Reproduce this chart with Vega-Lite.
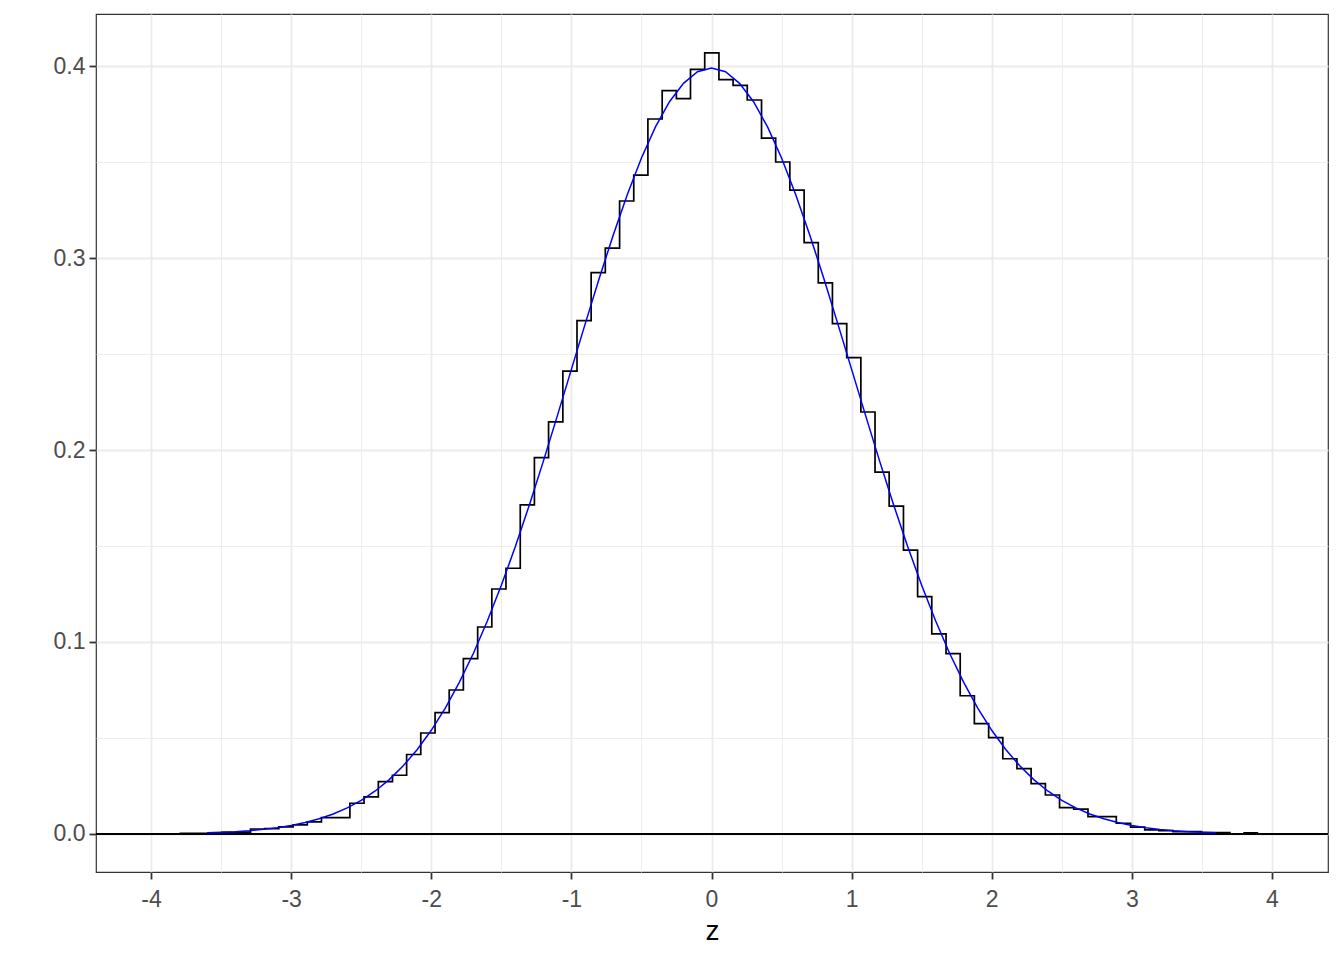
{
  "$schema": "https://vega.github.io/schema/vega-lite/v6.json",
  "width": 1232,
  "height": 858,
  "autosize": {"type": "none"},
  "padding": {"left": 96, "top": 14, "right": 16, "bottom": 88},
  "background": "white",
  "config": {
    "font": "Liberation Sans",
    "view": {"stroke": "#333333", "strokeWidth": 1.2}
  },
  "datasets": {
    "hist": [
      {"z": -3.797, "density": 0.0003}, {"z": -3.695, "density": 0.0003}, {"z": -3.594, "density": 0.0005},
      {"z": -3.493, "density": 0.0008}, {"z": -3.391, "density": 0.001}, {"z": -3.290, "density": 0.0026},
      {"z": -3.189, "density": 0.0028}, {"z": -3.088, "density": 0.0037}, {"z": -2.986, "density": 0.0047},
      {"z": -2.885, "density": 0.0063}, {"z": -2.784, "density": 0.0085}, {"z": -2.682, "density": 0.0085},
      {"z": -2.581, "density": 0.016}, {"z": -2.480, "density": 0.0193}, {"z": -2.378, "density": 0.0273},
      {"z": -2.277, "density": 0.0306}, {"z": -2.176, "density": 0.0414}, {"z": -2.075, "density": 0.0526},
      {"z": -1.973, "density": 0.0632}, {"z": -1.872, "density": 0.075}, {"z": -1.771, "density": 0.0913},
      {"z": -1.669, "density": 0.1078}, {"z": -1.568, "density": 0.1276}, {"z": -1.467, "density": 0.1384},
      {"z": -1.365, "density": 0.1714}, {"z": -1.264, "density": 0.196}, {"z": -1.163, "density": 0.2147},
      {"z": -1.061, "density": 0.2411}, {"z": -0.960, "density": 0.2674}, {"z": -0.859, "density": 0.2924},
      {"z": -0.758, "density": 0.3052}, {"z": -0.656, "density": 0.3297}, {"z": -0.555, "density": 0.3432},
      {"z": -0.454, "density": 0.3724}, {"z": -0.352, "density": 0.3872}, {"z": -0.251, "density": 0.383},
      {"z": -0.150, "density": 0.3983}, {"z": -0.0485, "density": 0.4069}, {"z": 0.053, "density": 0.3929},
      {"z": 0.154, "density": 0.3899}, {"z": 0.255, "density": 0.3823}, {"z": 0.357, "density": 0.3625},
      {"z": 0.458, "density": 0.35}, {"z": 0.559, "density": 0.3354}, {"z": 0.661, "density": 0.308},
      {"z": 0.762, "density": 0.2871}, {"z": 0.863, "density": 0.2658}, {"z": 0.965, "density": 0.2481},
      {"z": 1.066, "density": 0.2198}, {"z": 1.167, "density": 0.1885}, {"z": 1.268, "density": 0.1708},
      {"z": 1.370, "density": 0.1479}, {"z": 1.471, "density": 0.1236}, {"z": 1.572, "density": 0.1042},
      {"z": 1.674, "density": 0.0939}, {"z": 1.775, "density": 0.072}, {"z": 1.876, "density": 0.0575},
      {"z": 1.978, "density": 0.0502}, {"z": 2.079, "density": 0.0392}, {"z": 2.180, "density": 0.034},
      {"z": 2.281, "density": 0.0262}, {"z": 2.383, "density": 0.0203}, {"z": 2.484, "density": 0.0137},
      {"z": 2.585, "density": 0.0129}, {"z": 2.687, "density": 0.009}, {"z": 2.788, "density": 0.009},
      {"z": 2.889, "density": 0.0056}, {"z": 2.991, "density": 0.0036}, {"z": 3.092, "density": 0.0021},
      {"z": 3.193, "density": 0.0018}, {"z": 3.294, "density": 0.0012}, {"z": 3.396, "density": 0.0012},
      {"z": 3.497, "density": 0.0007}, {"z": 3.598, "density": 0.0007}, {"z": 3.700, "density": 0.0},
      {"z": 3.801, "density": 0.0006}, {"z": 3.902, "density": 0.0006}
    ],
    "dens": [
      {"z": -3.6, "density": 0.0006}, {"z": -3.5, "density": 0.0009}, {"z": -3.4, "density": 0.0012},
      {"z": -3.3, "density": 0.0017}, {"z": -3.2, "density": 0.0024}, {"z": -3.1, "density": 0.0033},
      {"z": -3.0, "density": 0.0044}, {"z": -2.9, "density": 0.006}, {"z": -2.8, "density": 0.0079},
      {"z": -2.7, "density": 0.0104}, {"z": -2.6, "density": 0.0136}, {"z": -2.5, "density": 0.0175},
      {"z": -2.4, "density": 0.0224}, {"z": -2.3, "density": 0.0283}, {"z": -2.2, "density": 0.0355},
      {"z": -2.1, "density": 0.044}, {"z": -2.0, "density": 0.054}, {"z": -1.9, "density": 0.0656},
      {"z": -1.8, "density": 0.079}, {"z": -1.7, "density": 0.094}, {"z": -1.6, "density": 0.1109},
      {"z": -1.5, "density": 0.1295}, {"z": -1.4, "density": 0.1497}, {"z": -1.3, "density": 0.1714},
      {"z": -1.2, "density": 0.1942}, {"z": -1.1, "density": 0.2179}, {"z": -1.0, "density": 0.242},
      {"z": -0.9, "density": 0.2661}, {"z": -0.8, "density": 0.2897}, {"z": -0.7, "density": 0.3123},
      {"z": -0.6, "density": 0.3332}, {"z": -0.5, "density": 0.3521}, {"z": -0.4, "density": 0.3683},
      {"z": -0.3, "density": 0.3814}, {"z": -0.2, "density": 0.391}, {"z": -0.1, "density": 0.397},
      {"z": 0.0, "density": 0.3989},
      {"z": 0.1, "density": 0.397}, {"z": 0.2, "density": 0.391}, {"z": 0.3, "density": 0.3814},
      {"z": 0.4, "density": 0.3683}, {"z": 0.5, "density": 0.3521}, {"z": 0.6, "density": 0.3332},
      {"z": 0.7, "density": 0.3123}, {"z": 0.8, "density": 0.2897}, {"z": 0.9, "density": 0.2661},
      {"z": 1.0, "density": 0.242}, {"z": 1.1, "density": 0.2179}, {"z": 1.2, "density": 0.1942},
      {"z": 1.3, "density": 0.1714}, {"z": 1.4, "density": 0.1497}, {"z": 1.5, "density": 0.1295},
      {"z": 1.6, "density": 0.1109}, {"z": 1.7, "density": 0.094}, {"z": 1.8, "density": 0.079},
      {"z": 1.9, "density": 0.0656}, {"z": 2.0, "density": 0.054}, {"z": 2.1, "density": 0.044},
      {"z": 2.2, "density": 0.0355}, {"z": 2.3, "density": 0.0283}, {"z": 2.4, "density": 0.0224},
      {"z": 2.5, "density": 0.0175}, {"z": 2.6, "density": 0.0136}, {"z": 2.7, "density": 0.0104},
      {"z": 2.8, "density": 0.0079}, {"z": 2.9, "density": 0.006}, {"z": 3.0, "density": 0.0044},
      {"z": 3.1, "density": 0.0033}, {"z": 3.2, "density": 0.0024}, {"z": 3.3, "density": 0.0017},
      {"z": 3.4, "density": 0.0012}, {"z": 3.5, "density": 0.0009}, {"z": 3.6, "density": 0.0006}
    ],
    "zero": [{"y": 0}]
  },
  "layer": [
    {
      "data": {"name": "hist"},
      "mark": {"type": "line", "interpolate": "step-after", "color": "black", "strokeWidth": 1.7},
      "encoding": {
        "x": {
          "field": "z",
          "type": "quantitative",
          "scale": {"domain": [-4.393, 4.4], "nice": false, "zero": false},
          "axis": {
            "title": "z",
            "values": [-4, -3.5, -3, -2.5, -2, -1.5, -1, -0.5, 0, 0.5, 1, 1.5, 2, 2.5, 3, 3.5, 4],
            "domain": false,
            "grid": true,
            "gridColor": "#EBEBEB",
            "gridWidth": {"condition": {"test": "abs(round(datum.value*2)%2)==1", "value": 0.9}, "value": 1.8},
            "tickColor": "#333333",
            "tickWidth": 1.8,
            "tickSize": 7,
            "tickOpacity": {"condition": {"test": "abs(round(datum.value*2)%2)==1", "value": 0}, "value": 1},
            "labelExpr": "abs(round(datum.value*2)%2)==1 ? '' : (datum.value < 0 ? '-' + abs(datum.value) : '' + datum.value)",
            "labelFontSize": 23,
            "labelColor": "#4D4D4D",
            "labelPadding": 9,
            "labelOverlap": false,
            "labelFlush": false,
            "titleFontSize": 28,
            "titleFontWeight": "normal",
            "titleColor": "black",
            "titlePadding": 6
          }
        },
        "y": {
          "field": "density",
          "type": "quantitative",
          "scale": {"domain": [-0.0198, 0.4271], "nice": false, "zero": false},
          "axis": {
            "title": null,
            "values": [0, 0.05, 0.1, 0.15, 0.2, 0.25, 0.3, 0.35, 0.4],
            "domain": false,
            "grid": true,
            "gridColor": "#EBEBEB",
            "gridWidth": {"condition": {"test": "abs(round(datum.value*20)%2)==1", "value": 0.9}, "value": 1.8},
            "tickColor": "#333333",
            "tickWidth": 1.8,
            "tickSize": 7,
            "tickOpacity": {"condition": {"test": "abs(round(datum.value*20)%2)==1", "value": 0}, "value": 1},
            "labelExpr": "abs(round(datum.value*20)%2)==1 ? '' : format(datum.value, '.1f')",
            "labelFontSize": 23,
            "labelColor": "#4D4D4D",
            "labelPadding": 4,
            "labelOverlap": false,
            "labelFlush": false
          }
        }
      }
    },
    {
      "data": {"name": "zero"},
      "mark": {"type": "rule", "color": "black", "strokeWidth": 1.8},
      "encoding": {"y": {"field": "y", "type": "quantitative"}}
    },
    {
      "data": {"name": "dens"},
      "mark": {"type": "line", "color": "#0000FF", "strokeWidth": 1.5},
      "encoding": {
        "x": {"field": "z", "type": "quantitative"},
        "y": {"field": "density", "type": "quantitative"}
      }
    }
  ]
}
